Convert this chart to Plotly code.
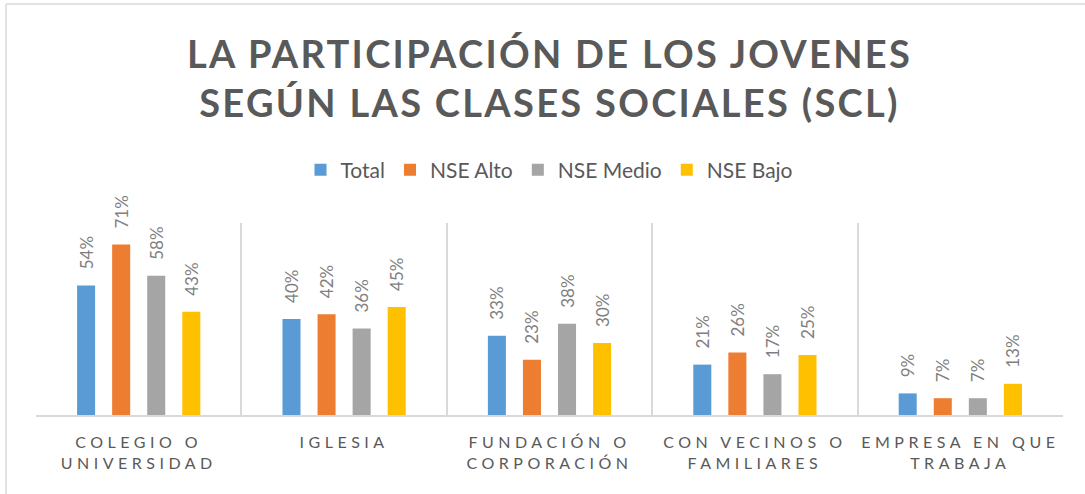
import plotly.graph_objects as go

categories = ["COLEGIO O<br>UNIVERSIDAD", "IGLESIA", "FUNDACIÓN O<br>CORPORACIÓN",
              "CON VECINOS O<br>FAMILIARES", "EMPRESA EN QUE<br>TRABAJA"]
series_names = ["Total", "NSE Alto", "NSE Medio", "NSE Bajo"]
total = [0.54, 0.40, 0.33, 0.21, 0.09]
nse_alto = [0.71, 0.42, 0.23, 0.26, 0.07]
nse_medio = [0.58, 0.36, 0.38, 0.17, 0.07]
nse_bajo = [0.43, 0.45, 0.30, 0.25, 0.13]
colors = ["#5B9BD5", "#ED7D31", "#A5A5A5", "#FFC000"]

W, H = 1085, 494
L, R, T, B = 36, 22, 223, 79

fig = go.Figure()
for name, vals, col in zip(series_names, [total, nse_alto, nse_medio, nse_bajo], colors):
    fig.add_trace(go.Bar(
        name=name, x=categories, y=vals, marker_color=col, marker_line_width=0,
        text=["\u00a0\u00a0\u00a0" + f"{round(v*100)}%" for v in vals], textposition="outside",
        textangle=-90, cliponaxis=False, constraintext="none",
        textfont=dict(family="Lato", size=17, color="#7F7F7F"),
    ))

pw = W - L - R
ph = H - T - B
def px(x):
    return (x - L) / pw
def py(y):
    return (H - B - y) / ph

fig.update_layout(
    width=W, height=H,
    margin=dict(l=L, r=R, t=T, b=B, autoexpand=False),
    paper_bgcolor="white", plot_bgcolor="white",
    barmode="group", bargap=0.317, bargroupgap=0.486,
    uniformtext=dict(mode=False),
    title=dict(
        text="LA PARTICIPACIÓN DE LOS JOVENES<br>SEGÚN LAS CLASES SOCIALES (SCL)",
        x=0.5, xref="paper", xanchor="center", y=1 - 68 / H, yref="container", yanchor="middle",
        font=dict(family="Lato", size=38, color="#595959", weight="bold"),
    ),
    legend=dict(orientation="h", x=0.5, xanchor="center", y=py(170), yanchor="middle",
                font=dict(family="Lato", size=21, color="#595959"),
                traceorder="normal"),
    xaxis=dict(type="category", tickson="boundaries", showgrid=True, gridcolor="#D9D9D9",
               gridwidth=1.5, showline=True, linecolor="#D9D9D9", linewidth=1.5,
               ticks="", tickfont=dict(family="Lato", size=16, color="#595959"),
               ticklabelstandoff=12, automargin=False,
               range=[-0.5, 4.5]),
    yaxis=dict(range=[0, 0.8], showgrid=False, showticklabels=False, zeroline=False,
               showline=False, automargin=False),
    showlegend=True,
    shapes=[
        dict(type="line", xref="paper", yref="paper", x0=px(6), x1=px(1085), y0=py(4), y1=py(4),
             line=dict(color="#D9D9D9", width=1.5)),
        dict(type="line", xref="paper", yref="paper", x0=px(6), x1=px(6), y0=py(4), y1=py(494),
             line=dict(color="#D9D9D9", width=1.5)),
    ],
)

post = """
document.body.style.margin='0';
document.body.style.overflow='hidden';
function ls(){
  document.querySelectorAll('.gtitle').forEach(function(e){e.style.letterSpacing='2.3px';});
  document.querySelectorAll('.xtick text').forEach(function(e){e.style.letterSpacing='4.5px';});
}
ls();
var gd = document.getElementsByClassName('plotly-graph-div')[0];
if (gd && gd.on) { gd.on('plotly_afterplot', ls); }
"""
fig.write_html("out.html", post_script=post, config={"displayModeBar": False})
